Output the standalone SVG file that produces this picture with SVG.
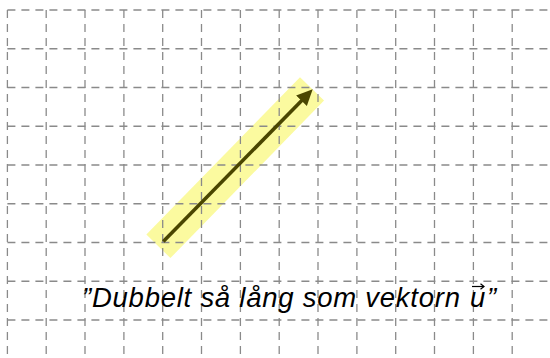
<svg xmlns="http://www.w3.org/2000/svg" width="550" height="358" viewBox="0 0 550 358">
<style>
.grid line { stroke:#8a8a8a; stroke-width:1.3; stroke-dasharray:8 6; fill:none; }
.lbl { font-family:"Liberation Sans","DejaVu Sans",sans-serif; font-style:italic; font-size:27.5px; fill:#000; }
</style>
<defs>
<marker id="ah" markerUnits="userSpaceOnUse" markerWidth="18" markerHeight="16" refX="6" refY="7.5" orient="auto" viewBox="0 0 18 15">
<path d="M0,0 L16,7.5 L0,15 z" fill="#4a4600"/>
</marker>
</defs>
<rect width="550" height="358" fill="#fff"/>
<g id="highlight">
<rect x="-110" y="-16.8" width="220" height="33.6" fill="#fbfa9f" transform="translate(235.2,167.6) rotate(-45.7)"/>
</g>
<g id="grid" class="grid">
<line x1="7.4" y1="10" x2="7.4" y2="358"/>
<line x1="46.2" y1="10" x2="46.2" y2="358"/>
<line x1="85" y1="10" x2="85" y2="358"/>
<line x1="123.9" y1="10" x2="123.9" y2="358"/>
<line x1="162.7" y1="10" x2="162.7" y2="358"/>
<line x1="201.5" y1="10" x2="201.5" y2="358"/>
<line x1="240.4" y1="10" x2="240.4" y2="358"/>
<line x1="279.2" y1="10" x2="279.2" y2="358"/>
<line x1="318" y1="10" x2="318" y2="358"/>
<line x1="356.9" y1="10" x2="356.9" y2="358"/>
<line x1="395.7" y1="10" x2="395.7" y2="358"/>
<line x1="434.5" y1="10" x2="434.5" y2="358"/>
<line x1="473.4" y1="10" x2="473.4" y2="358"/>
<line x1="512.2" y1="10" x2="512.2" y2="358"/>
<line x1="7.4" y1="10" x2="550" y2="10"/>
<line x1="7.4" y1="48.75" x2="550" y2="48.75"/>
<line x1="7.4" y1="87.5" x2="550" y2="87.5"/>
<line x1="7.4" y1="126.25" x2="550" y2="126.25"/>
<line x1="7.4" y1="165" x2="550" y2="165"/>
<line x1="7.4" y1="203.75" x2="550" y2="203.75"/>
<line x1="7.4" y1="242.5" x2="550" y2="242.5"/>
<line x1="7.4" y1="281.25" x2="550" y2="281.25"/>
<line x1="7.4" y1="320" x2="550" y2="320"/>
</g>
<g id="connectors">
<line x1="163.3" y1="241.5" x2="305.7" y2="96.4" stroke="#4a4600" stroke-width="3.6" marker-end="url(#ah)"/>
</g>
<g id="label">
<text class="lbl" x="82" y="307" textLength="378" lengthAdjust="spacing">”Dubbelt så lång som vektorn</text>
<text class="lbl" x="470" y="307">u</text>
<text class="lbl" x="487" y="307">”</text>
<g id="vec-arrow" stroke="#000" stroke-width="1.2" fill="none">
<line x1="472" y1="286.5" x2="484" y2="286.5"/>
<path d="M480.5,283.8 L484,286.5 L480.5,289.2"/>
</g>
</g>
</svg>
